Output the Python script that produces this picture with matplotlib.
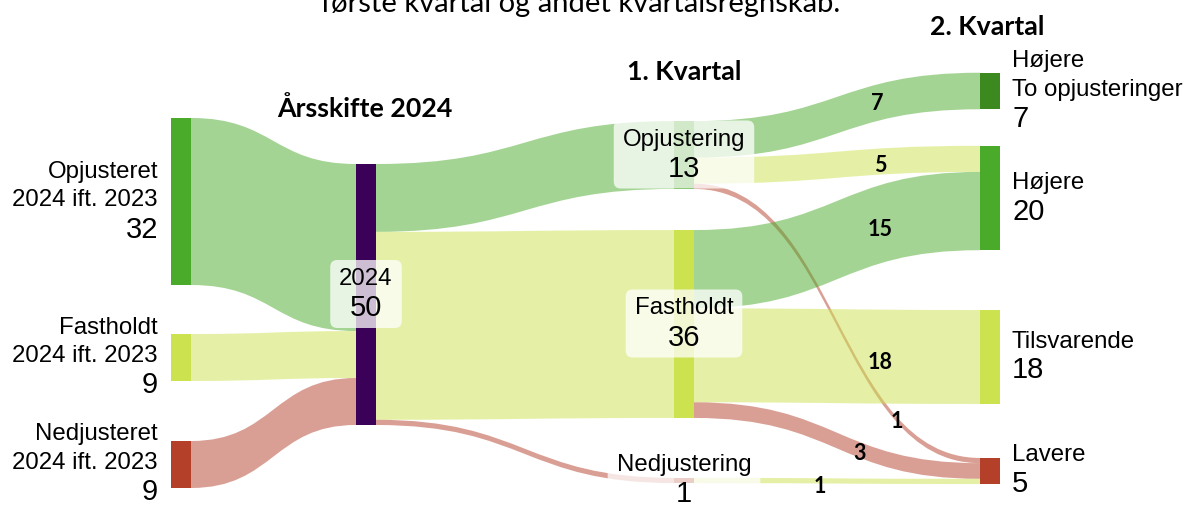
import numpy as np
import matplotlib.pyplot as plt
from matplotlib.path import Path
from matplotlib.patches import PathPatch, Rectangle, FancyBboxPatch
from matplotlib.colors import to_rgba

# --- data ---
node_names = ["Opjusteret\n2024 ift. 2023", "Fastholdt\n2024 ift. 2023", "Nedjusteret\n2024 ift. 2023",
              "2024",
              "Opjustering", "Fastholdt", "Nedjustering",
              "Højere\nTo opjusteringer", "Højere", "Tilsvarende", "Lavere"]
node_col = [0, 0, 0, 1, 2, 2, 2, 3, 3, 3, 3]
node_kind = ["op", "fast", "ned", "aar", "op", "fast", "ned", "op2", "op", "fast", "ned"]

link_source = [0, 1, 2, 3, 3, 3, 4, 4, 4, 5, 5, 5, 6]
link_target = [3, 3, 3, 4, 5, 6, 7, 8, 10, 8, 9, 10, 10]
link_value = [32, 9, 9, 13, 36, 1, 7, 5, 1, 15, 18, 3, 1]
link_kind = ["op", "fast", "ned", "op", "fast", "ned", "op", "fast", "ned", "op", "fast", "ned", "fast"]
link_show_label = [False] * 6 + [True] * 7

col_titles = ["Årsskifte 2024", "1. Kvartal", "2. Kvartal"]
title = "første kvartal og andet kvartalsregnskab."

# --- layout / style ---
W, H = 1191, 506
col_x = [171, 356, 674, 980]
node_w = 20
node_yc = [202.5, 358.5, 465.5, 295.5, 156, 325, 481.5, 92, 199, 358, 472]
px_per_unit = 5.22
label_s = [0, 0, 0, 0, 0, 0, 0.64, 0.65, 0.71, 0.65, 0.65, 0.58, 0.44]
label_dy = [0, 0, 0, 0, 0, 0, 0, 3, 0, 4, 5, 2, 5]
col_title_pos = [(365, 109), (684, 72), (987, 27)]

farver = {"op": "#4aaa2a", "op2": "#3b891f", "fast": "#cde24f", "ned": "#b5402a", "aar": "#3b0058"}

arial = ["Liberation Sans", "DejaVu Sans"]
calibri = ["Lato", "DejaVu Sans"]

fig = plt.figure(figsize=(W / 100, H / 100), dpi=100)
ax = fig.add_axes([0, 0, 1, 1])
ax.set_xlim(0, W)
ax.set_ylim(H, 0)
ax.axis("off")

# node values from links
n = len(node_names)
inn = np.zeros(n)
ud = np.zeros(n)
for s, t, v in zip(link_source, link_target, link_value):
    ud[s] += v
    inn[t] += v
node_val = np.maximum(inn, ud)
node_h = node_val * px_per_unit
node_top = np.array(node_yc) - node_h / 2

# links
out_off = node_top.copy()
in_off = node_top.copy()
for i, (s, t, v) in enumerate(zip(link_source, link_target, link_value)):
    h = v * px_per_unit
    x0 = col_x[node_col[s]] + node_w
    x1 = col_x[node_col[t]]
    y0a, y0b = out_off[s], out_off[s] + h
    y1a, y1b = in_off[t], in_off[t] + h
    out_off[s] += h
    in_off[t] += h
    xm = (x0 + x1) / 2
    verts = [(x0, y0a), (xm, y0a), (xm, y1a), (x1, y1a), (x1, y1b),
             (xm, y1b), (xm, y0b), (x0, y0b), (x0, y0a)]
    codes = [Path.MOVETO, Path.CURVE4, Path.CURVE4, Path.CURVE4, Path.LINETO,
             Path.CURVE4, Path.CURVE4, Path.CURVE4, Path.CLOSEPOLY]
    ax.add_patch(PathPatch(Path(verts, codes), facecolor=to_rgba(farver[link_kind[i]], 0.5),
                           edgecolor="none", zorder=1))
    if link_show_label[i]:
        # find bezier parameter for the wanted x fraction
        tt = np.linspace(0, 1, 2001)
        sx = 1.5 * tt - 1.5 * tt ** 2 + tt ** 3
        tp = tt[np.argmin(np.abs(sx - label_s[i]))]
        yf = 3 * tp ** 2 - 2 * tp ** 3
        yc = (y0a + y0b) / 2 + ((y1a + y1b) / 2 - (y0a + y0b) / 2) * yf
        xc = x0 + (x1 - x0) * label_s[i]
        ax.text(xc, yc + label_dy[i], str(v), ha="center", va="center", fontsize=15.5,
                fontweight="bold", family=calibri, zorder=5)

# nodes
for i in range(n):
    ax.add_patch(Rectangle((col_x[node_col[i]], node_top[i]), node_w, node_h[i],
                           facecolor=farver[node_kind[i]], edgecolor="none", zorder=2))

# node labels
renderer = fig.canvas.get_renderer()
for i in range(n):
    c = node_col[i]
    lines = node_names[i].split("\n")
    k = len(lines)
    ys = [node_yc[i] + (j - k / 2) * 29 - 2 for j in range(k + 1)]
    if c == 0:
        x, ha = col_x[c] - 13, "right"
    elif c == 3:
        x, ha = col_x[c] + node_w + 12, "left"
    else:
        x, ha = col_x[c] + node_w / 2, "center"
    txts = []
    for j, ln in enumerate(lines):
        txts.append(ax.text(x, ys[j], ln, ha=ha, va="center", fontsize=17.3, family=arial, zorder=6))
    txts.append(ax.text(x, ys[k], f"{int(node_val[i])}", ha=ha, va="center", fontsize=21,
                        family=arial, zorder=6))
    if c in (1, 2):
        bbs = [t.get_window_extent(renderer) for t in txts]
        bx0 = min(b.x0 for b in bbs) - 6
        bx1 = max(b.x1 for b in bbs) + 6
        by0 = ys[0] - 15
        by1 = ys[k] + 18
        ax.add_patch(FancyBboxPatch((bx0, by0), bx1 - bx0, by1 - by0,
                                    boxstyle="round,pad=3,rounding_size=7",
                                    facecolor=(1, 1, 1, 0.75), edgecolor="none", zorder=4))

# column titles
for txt, (x, y) in zip(col_titles, col_title_pos):
    ax.text(x, y, txt, ha="center", va="center", fontsize=19.3, fontweight="bold", family=calibri)

ax.text(581, 12, title, ha="center", va="baseline", fontsize=21, family=calibri)

fig.savefig("out.png", dpi=100)
